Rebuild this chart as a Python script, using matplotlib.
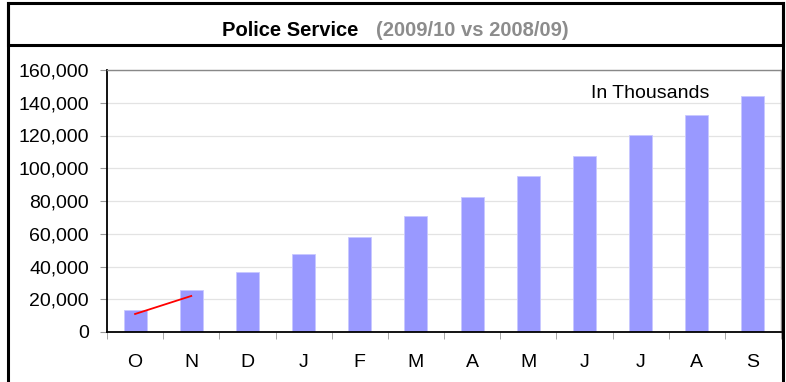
import matplotlib
matplotlib.use("Agg")
import matplotlib.pyplot as plt
from matplotlib.ticker import FuncFormatter
from matplotlib.patches import Rectangle
from matplotlib.lines import Line2D

plt.rcParams['font.family'] = ['Liberation Sans', 'DejaVu Sans']

months = ["O", "N", "D", "J", "F", "M", "A", "M", "J", "J", "A", "S"]
values_2009 = [13500, 25700, 36600, 47600, 58000, 70800, 82400, 95300, 107500, 120300, 132500, 144100]
line_months = ["O", "N"]
values_2008 = [11000, 22000]
y_ticks = [0, 20000, 40000, 60000, 80000, 100000, 120000, 140000, 160000]

W, H = 786, 382
fig = plt.figure(figsize=(W / 100, H / 100), dpi=100)

def fx(px):
    return px / W

def fy(py):
    return 1 - py / H

# Outer frame lines
fig.add_artist(Line2D([fx(8), fx(8)], [fy(3), 0], color="black", lw=2.2, transform=fig.transFigure))
fig.add_artist(Line2D([fx(783), fx(783)], [fy(3), 0], color="black", lw=2.2, transform=fig.transFigure))
# Title box
fig.add_artist(Rectangle((fx(8), fy(45)), fx(783) - fx(8), fy(3) - fy(45), fill=False,
                         edgecolor="black", lw=2.2, transform=fig.transFigure))
fig.text(fx(358), fy(30), "Police Service", ha="right", va="center", fontsize=14.5,
         fontweight="bold", color="black")
fig.text(fx(376), fy(30), "(2009/10 vs 2008/09)", ha="left", va="center", fontsize=14.5,
         fontweight="bold", color="#8c8c8c")

ax = fig.add_axes([fx(107), fy(332), fx(781) - fx(107), fy(70) - fy(332)])
x = list(range(len(months)))
ax.bar(x, values_2009, width=0.41, color="#9999ff", edgecolor="#c8c8ff", linewidth=0.6, zorder=2)
ax.plot([0, 1], values_2008, color="red", lw=1.3, zorder=3)

ax.set_xlim(-0.5, len(months) - 0.5)
ax.set_ylim(0, 160000)
ax.set_yticks(y_ticks)
ax.yaxis.set_major_formatter(FuncFormatter(lambda v, p: f"{int(v):,}"))
ax.set_xticks(x)
ax.set_xticklabels(months)
ax.set_xticks([i - 0.5 for i in range(len(months) + 1)], minor=True)
ax.tick_params(axis="x", which="major", length=0, pad=15.5, labelsize=14)
ax.tick_params(axis="x", which="minor", length=5, color="#999999", direction="out")
ax.tick_params(axis="y", length=5, color="#999999", labelsize=14, pad=8)
ax.grid(axis="y", color="#e3e3e3", lw=0.9, zorder=0)
ax.set_axisbelow(True)
for s in ["top", "right"]:
    ax.spines[s].set_color("#888888")
    ax.spines[s].set_linewidth(1.0)
for s in ["left", "bottom"]:
    ax.spines[s].set_color("black")
    ax.spines[s].set_linewidth(1.3)

ax.text(0.806, 0.912, "In Thousands", transform=ax.transAxes, ha="center", va="center",
        fontsize=14, color="black")

fig.savefig("out.png", dpi=100)
